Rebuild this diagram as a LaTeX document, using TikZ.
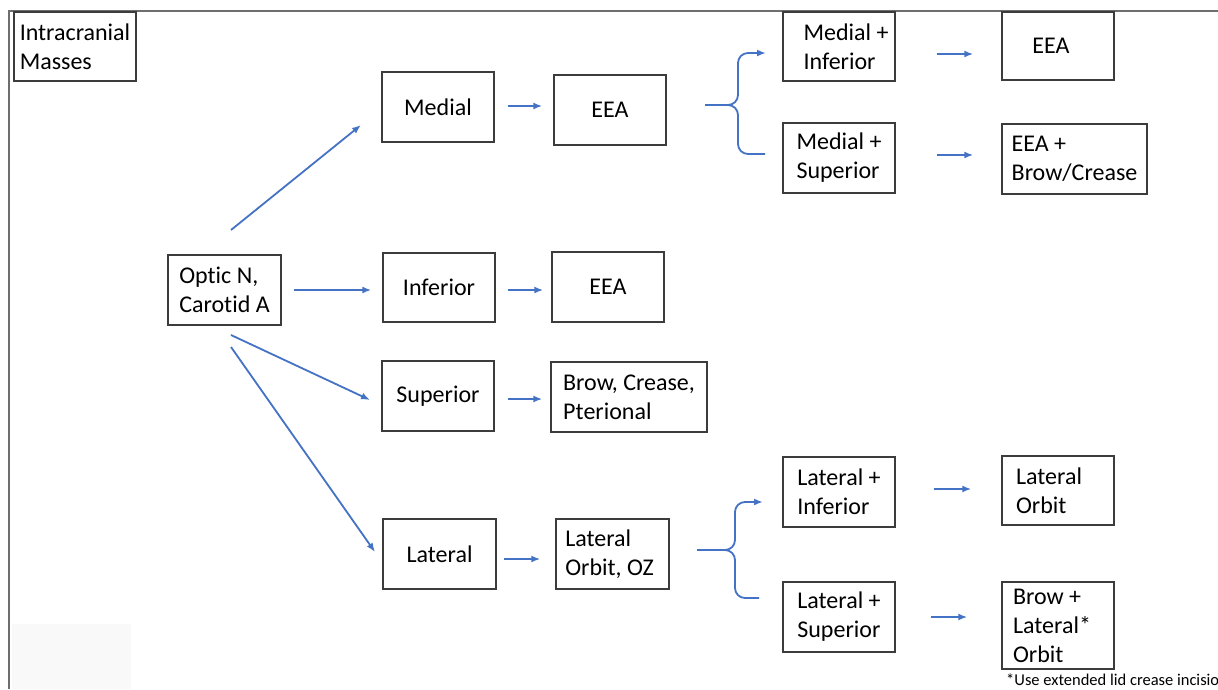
\documentclass[tikz,border=0pt]{standalone}
\usepackage{fontspec}
\setmainfont{Carlito}[Ligatures={NoCommon}]
\usetikzlibrary{arrows.meta}
\definecolor{arrblue}{RGB}{68,114,196}
\definecolor{framegray}{RGB}{110,110,110}
\definecolor{boxgray}{RGB}{60,60,60}
\definecolor{faint}{RGB}{249,249,249}
\begin{document}
\begin{tikzpicture}[x=1pt,y=-1pt,
  box/.style={draw=boxgray,line width=1.4pt,inner sep=0pt,align=left,
    font=\fontsize{24}{29}\selectfont,text=black},
  arr/.style={draw=arrblue,line width=1.8pt,-{Latex[length=9pt,width=7pt]}},
  ln/.style={draw=arrblue,line width=1.8pt}]
\clip (0,0) rectangle (1218,689);
\fill[white] (0,0) rectangle (1218,689);
\fill[faint] (12,624) rectangle (131,689);
\draw[framegray,line width=2pt] (9,689) -- (9,11) -- (1218,11);

% nodes
\node[box,minimum width=122pt,minimum height=69pt] (im) at (75,46.5) {Intracranial\\Masses};
\node[box,minimum width=113pt,minimum height=70pt] (optic) at (224.5,290) {Optic N,\\Carotid A};
\node[box,minimum width=112pt,minimum height=70pt] (medial) at (438,107) {Medial};
\node[box,minimum width=112pt,minimum height=70pt] (eea1) at (610,110) {EEA};
\node[box,minimum width=112pt,minimum height=69pt] (inferior) at (439,287.5) {Inferior};
\node[box,minimum width=112pt,minimum height=70pt] (eea2) at (608,287) {EEA};
\node[box,minimum width=112pt,minimum height=70pt] (superior) at (438,396) {Superior};
\node[box,minimum width=156pt,minimum height=70pt] (brow) at (629,397) {Brow, Crease,\\Pterional};
\node[box,minimum width=113pt,minimum height=70pt] (lateral) at (439.5,554) {Lateral};
\node[box,minimum width=113pt,minimum height=70pt] (latoz) at (612.5,554) {Lateral\\Orbit, OZ\makebox[6pt]{}};
\node[box,minimum width=112pt,minimum height=69pt] (mi) at (839,46.5) {\makebox[14pt]{}Medial +\\\makebox[14pt]{}Inferior};
\node[box,minimum width=112pt,minimum height=68pt] (eea3) at (1058,46) {EEA\makebox[14pt]{}};
\node[box,minimum width=112pt,minimum height=70pt] (ms) at (839,158) {Medial +\\Superior};
\node[box,minimum width=145pt,minimum height=70pt] (eeabc) at (1074.5,159) {EEA +\\Brow/Crease};
\node[box,minimum width=112pt,minimum height=70pt] (li) at (839,492) {Lateral +\\Inferior};
\node[box,minimum width=112pt,minimum height=69pt] (lo) at (1058,490.5) {Lateral\makebox[18pt]{}\\Orbit};
\node[box,minimum width=112pt,minimum height=70pt] (ls) at (839,617) {Lateral +\\Superior};
\node[box,minimum width=112pt,minimum height=87pt] (blo) at (1058,625.5) {Brow +\\Lateral*\makebox[12pt]{}\\Orbit};
\node[anchor=base west,inner sep=0pt,font=\fontsize{16.5}{19}\selectfont] (note) at (1006,685) {*Use extended lid crease incision};

% diagonal arrows from Optic N
\coordinate (d1s) at (231,230); \coordinate (d1e) at (361,125);
\coordinate (d3s) at (231,335); \coordinate (d3e) at (370,400);
\coordinate (d4s) at (231,347); \coordinate (d4e) at (375,552);
\draw[arr] (d1s) -- (d1e);
\draw[arr] (d3s) -- (d3e);
\draw[arr] (d4s) -- (d4e);
\draw[arr,shorten <=12pt,shorten >=11pt] (optic.east) -- (optic.east -| inferior.west);

% horizontal arrows
\draw[arr,shorten <=13pt,shorten >=11pt] ([yshift=1pt]medial.east) -- ([yshift=1pt]medial.east -| eea1.west);
\draw[arr,shorten <=12pt,shorten >=8pt] ([yshift=-2.5pt]inferior.east) -- ([yshift=-2.5pt]inferior.east -| eea2.west);
\draw[arr,shorten <=13pt,shorten >=8pt] ([yshift=-3pt]superior.east) -- ([yshift=-3pt]superior.east -| brow.west);
\draw[arr,shorten <=7pt,shorten >=15pt] ([yshift=-5pt]lateral.east) -- ([yshift=-5pt]lateral.east -| latoz.west);
\draw[arr,shorten <=41pt,shorten >=28pt] ([yshift=-7.5pt]mi.east) -- ([yshift=-7.5pt]mi.east -| eea3.west);
\draw[arr,shorten <=41pt,shorten >=28pt] ([yshift=3pt]ms.east) -- ([yshift=3pt]ms.east -| eeabc.west);
\draw[arr,shorten <=38pt,shorten >=30pt] ([yshift=3pt]li.east) -- ([yshift=3pt]li.east -| lo.west);
\draw[arr,shorten <=35pt,shorten >=34pt] (ls.east) -- (ls.east -| blo.west);

% brace 1
\coordinate (b1s) at (705,105); \coordinate (b1m) at (728,105);
\coordinate (b1t) at (766,53); \coordinate (b1b) at (765,154);
\draw[ln] (b1s) -- (b1m);
\draw[arr] (b1m) to[out=0,in=-90] (738,95) -- (738,63) to[out=90,in=180] (748,53) -- (b1t);
\draw[ln] (b1m) to[out=0,in=90] (738,115) -- (738,144) to[out=-90,in=180] (748,154) -- (b1b);

% brace 2
\coordinate (b2s) at (697,550); \coordinate (b2m) at (725,550);
\coordinate (b2t) at (763,502); \coordinate (b2b) at (759,598);
\draw[ln] (b2s) -- (b2m);
\draw[arr] (b2m) to[out=0,in=-90] (735,540) -- (735,512) to[out=90,in=180] (745,502) -- (b2t);
\draw[ln] (b2m) to[out=0,in=90] (735,560) -- (735,588) to[out=-90,in=180] (745,598) -- (b2b);
\end{tikzpicture}
\end{document}
